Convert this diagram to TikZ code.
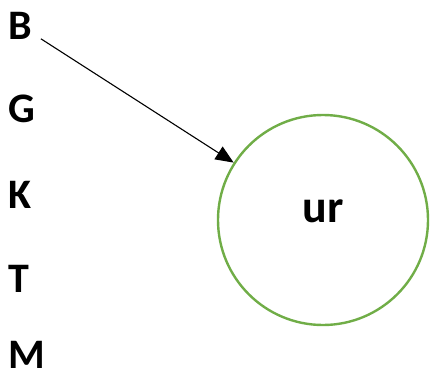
\documentclass[tikz,border=0pt]{standalone}
\usepackage{fontspec}
\setmainfont{Carlito}
\usetikzlibrary{arrows.meta}
\definecolor{RingGreen}{HTML}{70AD47}
\tikzset{
  letter node/.style={
    anchor=west,
    inner sep=0pt,
    font=\fontsize{42}{42}\selectfont\bfseries,
  },
  ring node/.style={
    draw=RingGreen,
    line width=2.4pt,
    circle,
    minimum size=210pt,
    inner sep=0pt,
    text depth=17pt,
    font=\fontsize{46}{46}\selectfont\bfseries,
  },
  link/.style={
    -{Triangle[length=18pt,width=15pt]},
    line width=1.1pt,
  },
}

\begin{document}
\begin{tikzpicture}[x=1pt,y=-1pt]
  \useasboundingbox (0,0) rectangle (430,380);
  \node[letter node] (B) at (8,26) {B};
  \node[letter node] (G) at (8,109) {G};
  \node[letter node] (K) at (8,195) {K};
  \node[letter node] (T) at (8,279) {T};
  \node[letter node] (M) at (8,355) {M};
  \node[ring node] (ur) at (323,220) {ur};
  \draw[link] ([xshift=9pt,yshift=1pt]B.south east) -- (ur);
\end{tikzpicture}
\end{document}
